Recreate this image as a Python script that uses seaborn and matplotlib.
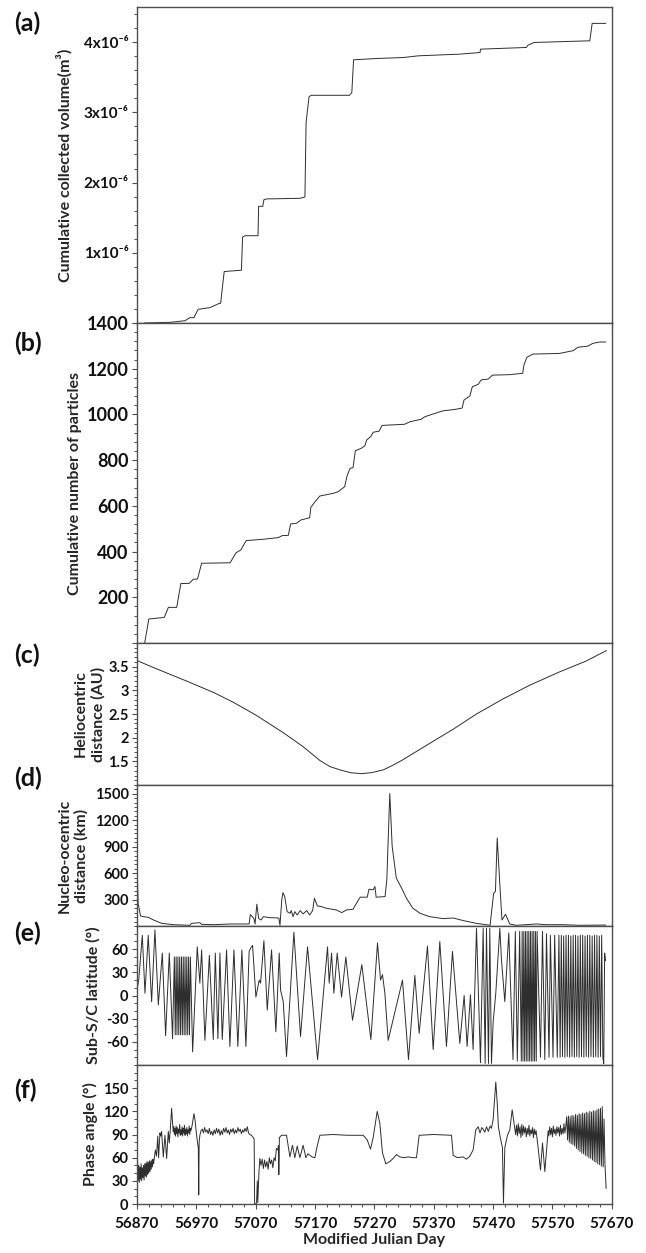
import matplotlib
matplotlib.use("Agg")
import matplotlib.pyplot as plt
from matplotlib.ticker import FixedLocator, FixedFormatter, MultipleLocator, AutoMinorLocator
import seaborn as sns

# ---------------- data ----------------
x_ticks = [56870, 56970, 57070, 57170, 57270, 57370, 57470, 57570, 57670]

# (a) cumulative collected volume, in units of 1e-6 m3
a_day = [56883, 56926, 56951, 56959, 56966, 56973, 56993, 57009, 57011, 57017,
         57046, 57048, 57052, 57074, 57075, 57082, 57084, 57088, 57145, 57153,
         57155, 57160, 57164, 57228, 57232, 57235, 57274, 57319, 57344, 57414,
         57448, 57449, 57526, 57529, 57539, 57633, 57637, 57660]
a_vol = [0, 0.01, 0.033, 0.076, 0.076, 0.195, 0.219, 0.281, 0.281, 0.733,
         0.752, 1.224, 1.243, 1.243, 1.662, 1.662, 1.757, 1.767, 1.776, 1.795,
         2.862, 3.224, 3.243, 3.243, 3.281, 3.748, 3.767, 3.781, 3.805, 3.829,
         3.852, 3.9, 3.924, 3.957, 3.995, 4.019, 4.267, 4.267]

# (b) cumulative number of particles
b_day = [56883, 56890, 56916, 56923, 56937, 56944, 56958, 56965, 56972, 56979,
         57027, 57037, 57045, 57054, 57083, 57108, 57115, 57125, 57129, 57139,
         57146, 57161, 57163, 57170, 57178, 57201, 57209, 57220, 57224, 57229,
         57234, 57238, 57248, 57254, 57257, 57264, 57268, 57278, 57283, 57321,
         57330, 57349, 57355, 57369, 57386, 57406, 57418, 57421, 57431, 57435,
         57445, 57450, 57462, 57469, 57498, 57520, 57522, 57527, 57537, 57582,
         57605, 57613, 57630, 57638, 57650, 57660]
b_num = [0, 105, 112, 156, 156, 260, 261, 279, 280, 349,
         351, 395, 407, 448, 454, 461, 470, 471, 521, 524,
         538, 548, 594, 618, 643, 655, 662, 684, 731, 764,
         767, 841, 852, 863, 888, 903, 922, 927, 952, 957,
         968, 979, 990, 1002, 1016, 1022, 1028, 1063, 1081, 1121,
         1132, 1151, 1155, 1172, 1174, 1180, 1216, 1250, 1264, 1267,
         1279, 1294, 1299, 1311, 1317, 1317]

# (c) heliocentric distance (AU)
c_day = [56870, 56900, 56951, 57000, 57032, 57070, 57116, 57150, 57178, 57195,
         57212, 57230, 57248, 57265, 57285, 57300, 57319, 57358, 57403, 57442,
         57487, 57532, 57582, 57627, 57661]
c_au = [3.63, 3.47, 3.21, 2.95, 2.75, 2.48, 2.11, 1.81, 1.52, 1.39,
        1.32, 1.26, 1.24, 1.26, 1.32, 1.41, 1.54, 1.84, 2.18, 2.50,
        2.82, 3.11, 3.39, 3.62, 3.84]

# (d) nucleo-centric distance (km)
d_day = [56870, 56872, 56876, 56881, 56889, 56898, 56912, 56931, 56959, 56962,
         56976, 56979, 56999, 57027, 57059, 57061, 57067, 57069, 57072, 57075,
         57079, 57083, 57094, 57109, 57111, 57114, 57116, 57119, 57123, 57128,
         57130, 57133, 57136, 57140, 57145, 57150, 57156, 57161, 57166, 57169,
         57174, 57181, 57189, 57206, 57215, 57223, 57234, 57246, 57258, 57261,
         57268, 57271, 57273, 57288, 57291, 57296, 57300, 57307, 57316, 57324,
         57335, 57347, 57363, 57386, 57403, 57420, 57442, 57465, 57471, 57474,
         57477, 57481, 57485, 57491, 57498, 57509, 57543, 57560, 57588, 57616,
         57660]
d_km = [752, 258, 114, 106, 99, 68, 30, 15, 8, 30,
        38, 19, 15, 23, 23, 129, 87, 23, 247, 87,
        68, 106, 95, 91, 8, 296, 380, 334, 163, 144,
        175, 106, 163, 125, 175, 137, 175, 125, 175, 315,
        228, 220, 201, 182, 152, 182, 190, 327, 327, 418,
        410, 448, 327, 334, 524, 1504, 904, 543, 429, 315,
        201, 144, 106, 84, 91, 61, 30, 8, 372, 391,
        999, 524, 68, 133, 23, 8, 23, 15, 15, 8,
        11]

# (e) sub-spacecraft latitude (deg), turning points
e_day = [56870, 56873, 56879, 56883.5, 56889, 56894.7, 56900.3, 56906, 56912.7, 56918.3, 56924.5, 56930,
         56933, 56934.5, 56936, 56937.5, 56939, 56940.5, 56942, 56943.5, 56945, 56946.5,
         56948, 56949.5, 56951, 56952.5, 56954, 56955.5, 56957, 56958.5, 56960,
         56963.8, 56971.6, 56976, 56979, 56984.5, 56992, 56998.6, 57002, 57006.4, 57009.8,
         57013.7, 57021, 57026.6, 57033.4, 57040, 57046.8, 57053.6, 57059, 57061.4, 57064.8,
         57070.4, 57076, 57078.3, 57083.9, 57089.5, 57096.8, 57104.1, 57109.7, 57112, 57116.5,
         57122, 57134.4, 57145.6, 57157.4, 57174.3, 57191.1, 57193.9, 57197.9, 57201.8, 57207.4,
         57214.7, 57222, 57233.2, 57248.9, 57264.1, 57275.3, 57280.4, 57283.7, 57287.7, 57293.3,
         57317.4, 57327.5, 57338.2, 57345.5, 57359.5, 57369.1, 57380.3, 57391.5, 57401.6, 57414,
         57421.3, 57426.3, 57431.9, 57436.4,
         57442.1, 57448.8, 57453.3, 57456.7, 57458.9, 57462.3, 57464.5, 57467.3, 57470.1, 57474.6,
         57481.4, 57484.2, 57489.8, 57496.5, 57503.6, 57507.5, 57510.9, 57514.8, 57517.6,
         57519.0, 57520.4, 57521.8, 57523.2, 57524.6, 57526.0, 57527.4, 57528.8, 57530.2, 57531.6,
         57533.0, 57534.4, 57535.8, 57537.2, 57538.6, 57540.0, 57541.4, 57542.8, 57544.2,
         57549.9, 57553.3, 57557.2, 57560, 57564.3, 57566.6, 57571, 57573.8, 57578.2, 57581,
         57583, 57585, 57587, 57589, 57591, 57593, 57595, 57597, 57599, 57601,
         57603, 57605, 57607, 57609, 57611, 57613, 57615, 57617, 57619, 57621,
         57623, 57625, 57627, 57629, 57631, 57633, 57635, 57637, 57639, 57641,
         57643, 57645, 57647, 57649, 57651, 57653, 57655,
         57656.5, 57658, 57659.5]
e_lat = [7, 20, 78, 3, 78, -8, 85, -12, 55, -52, 55, -56,
         50, -51, 50, -51, 50, -51, 50, -51, 50, -51,
         50, -51, 50, -51, 50, -51, 50, -51, 50,
         -73, 63, 16, 59, -58, 52, -57, 55, -56, 55,
         -57, 59, -66, 59, -66, 59, -66, 57, 61, 65,
         -2, 20, 16, 71, -19, 59, -47, 55, 7, -8,
         -79, 82, -53, 63, -83, 63, 16, 55, 3, 55,
         -2, 50, -32, 40, -57, 68, 20, 27, 3, -58,
         20, -83, 26, -49, 64, -70, 70, -66, 57, -62,
         0, -66, 1, -70,
         87, -87, 87, -88, 87, -88, 87, -88, -35, 3,
         87, 46, -8, 81, -83, 83, -85, 83, -85,
         83, -85, 83, -85, 83, -85, 83, -85, 83, -85,
         83, -85, 83, -85, 83, -85, 83, -85, 83,
         -80, 83, -83, 80, -80, 78, -80, 78, -80, 78,
         -80, 78, -79, 77, -80, 78, -79, 78, -80, 77,
         -79, 78, -80, 78, -79, 77, -80, 78, -79, 78,
         -80, 77, -79, 78, -80, 78, -79, 77, -80, 78,
         -79, 78, -80, 77, -79, 78, -80,
         -88, 55, 45]

# (f) phase angle (deg)
f_day = [56870, 56871, 56872, 56873, 56874, 56875, 56876, 56877, 56878, 56879,
         56880, 56881, 56882, 56883, 56884, 56885, 56886, 56887, 56888, 56889,
         56890, 56891, 56892, 56893, 56894, 56895, 56896, 56897, 56898,
         56901, 56903, 56905, 56906.5, 56908.7, 56910, 56911.5, 56914.4, 56917.2, 56920,
         56922.8, 56924.5, 56926.5, 56928.4, 56930, 56931.2,
         56932, 56933, 56934, 56935, 56936, 56937, 56938, 56939, 56940, 56941,
         56942, 56943, 56944, 56945, 56946, 56947, 56948, 56949, 56950, 56951,
         56952, 56953, 56954, 56955, 56956, 56957, 56958, 56959, 56960, 56961,
         56963, 56966, 56968, 56970.5, 56973.4, 56974.1, 56974.8, 56976, 56978,
         56980, 56982, 56984, 56986, 56988, 56990, 56992, 56994, 56996, 56998,
         57000, 57002, 57004, 57006, 57008, 57010, 57012, 57014, 57016, 57018,
         57020, 57022, 57024, 57026, 57028, 57030, 57032, 57034, 57036, 57038,
         57040, 57042, 57044, 57046, 57048, 57050, 57052, 57054, 57056, 57058,
         57060, 57063, 57066, 57067.5, 57068.2, 57069, 57071.5, 57072.8, 57073.6, 57075.5,
         57077, 57079, 57081, 57083, 57085, 57087, 57089, 57091, 57093, 57095,
         57097, 57099, 57101, 57103, 57105, 57107, 57108.6, 57109, 57110, 57113.6,
         57122, 57127.7, 57132, 57136, 57140, 57144.5, 57150, 57154.6, 57158, 57161.4,
         57165, 57169.8, 57173.7, 57178.2, 57200, 57225, 57251.2, 57258, 57263.5, 57268,
         57274.8, 57279.3, 57283.7, 57289.4, 57296, 57301.7, 57307.3, 57313, 57320, 57327,
         57334, 57341, 57345.5, 57370, 57400, 57402.8, 57410, 57419.6, 57425, 57430.8,
         57436.4, 57440.9, 57445, 57448, 57451, 57453.3, 57456, 57459, 57462, 57465,
         57467.3, 57470.1, 57474.6, 57476.9, 57479, 57482.5, 57485.8, 57487.5, 57489.8, 57494.3,
         57498.2, 57502.2, 57506.6,
         57508, 57509.5, 57511, 57512.5, 57514, 57515.5, 57517, 57518.5, 57520, 57521.5,
         57523, 57524.5, 57526, 57527.5, 57529, 57530.5, 57532, 57533.5, 57535, 57536.5,
         57538, 57539.5, 57541, 57542.5,
         57545.9, 57549.9, 57553.3, 57557.2, 57562.8,
         57564, 57565.5, 57567, 57568.5, 57570, 57571.5, 57573, 57574.5, 57576, 57577.5,
         57579, 57580.5, 57582, 57583.5, 57585, 57586.5, 57588, 57589.5, 57591, 57592.5,
         57594, 57595.5, 57597, 57598.5, 57600, 57601.5, 57603, 57604.5, 57606, 57607.5,
         57609, 57610.5, 57612, 57613.5, 57615, 57616.5, 57618, 57619.5, 57621, 57622.5,
         57624, 57625.5, 57627, 57628.5, 57630, 57631.5, 57633, 57634.5, 57636, 57637.5,
         57639, 57640.5, 57642, 57643.5, 57645, 57646.5, 57648, 57649.5, 57651, 57652.5,
         57654, 57655.5,
         57657, 57658.5, 57660.5]
f_phase = [33, 55, 30, 50, 28, 48, 32, 52, 30, 47,
           34, 50, 31, 52, 36, 53, 35, 55, 38, 54,
           40, 56, 42, 55, 45, 57, 48, 58, 52,
           70, 62, 88, 60, 92, 88, 94, 61, 89, 59,
           94, 79, 100, 124, 105, 94,
           100, 90, 98, 88, 101, 91, 99, 87, 97, 92,
           103, 89, 96, 90, 100, 88, 98, 92, 102, 89,
           97, 91, 99, 88, 96, 92, 101, 90, 98, 95,
           102, 117, 108, 89, 72, 12, 80, 89, 95,
           97, 92, 99, 93, 96, 91, 98, 90, 94, 89,
           96, 91, 98, 92, 97, 89, 95, 90, 98, 93,
           99, 92, 96, 90, 97, 93, 98, 91, 96, 92,
           99, 94, 97, 91, 96, 93, 98, 94, 100, 92,
           90, 89, 86, 84, 1, 0, 1, 30, 2, 40,
           59, 50, 58, 46, 57, 48, 55, 45, 60, 52,
           57, 47, 60, 56, 72, 70, 76, 38, 86, 89,
           89, 61, 76, 60, 75, 60, 76, 60, 65, 63,
           61, 60, 75, 89, 90, 89, 89, 83, 71, 86,
           120, 104, 66, 52, 55, 59, 64, 61, 60, 61,
           60, 60, 89, 90, 89, 63, 60, 61, 58, 62,
           70, 96, 100, 92, 99, 97, 93, 100, 94, 101,
           98, 109, 158, 132, 100, 85, 73, 1, 73, 89,
           96, 122, 98,
           90, 102, 88, 104, 91, 100, 86, 103, 89, 101,
           92, 99, 87, 98, 90, 102, 88, 96, 91, 99,
           86, 97, 90, 95,
           73, 44, 79, 42, 95,
           88, 100, 90, 98, 87, 101, 91, 97, 89, 100,
           92, 99, 88, 102, 90, 98, 91, 104, 92, 100,
           113, 83, 114, 80, 113, 78, 115, 77, 114, 75,
           116, 72, 115, 70, 117, 68, 116, 66, 118, 65,
           117, 63, 119, 62, 118, 60, 120, 59, 119, 57,
           121, 55, 120, 54, 122, 52, 123, 51, 124, 49,
           126, 48,
           110, 53, 20]

# ---------------- styling ----------------
LINE = "#2e2e2e"
FRAME = "#4d4d4d"

sns.set_theme(style="ticks")
plt.rcParams["font.family"] = ["Lato", "DejaVu Sans"]
plt.rcParams["font.weight"] = "bold"
plt.rcParams["axes.labelweight"] = "bold"

fig = plt.figure(figsize=(6.46, 12.53), dpi=100)
gs = fig.add_gridspec(6, 1, height_ratios=[316, 320, 142, 141, 139, 139], hspace=0,
                      left=0.212, right=0.947, top=0.9944, bottom=0.0391)
axes = [fig.add_subplot(gs[i]) for i in range(6)]


def panel(ax, x, y, ylabel, ylim, yticks, ylabels, minor, labelpad, tsize):
    sns.lineplot(x=x, y=y, ax=ax, color=LINE, linewidth=0.7, sort=False, estimator=None)
    ax.set_xlim(56870, 57670)
    ax.set_ylim(ylim)
    ax.xaxis.set_major_locator(FixedLocator(x_ticks))
    ax.xaxis.set_minor_locator(AutoMinorLocator(5))
    ax.yaxis.set_major_locator(FixedLocator(yticks))
    ax.yaxis.set_major_formatter(FixedFormatter(ylabels))
    ax.yaxis.set_minor_locator(MultipleLocator(minor))
    ax.set_ylabel(ylabel, fontsize=11.5, labelpad=labelpad, linespacing=1.25)
    ax.set_xlabel("")
    ax.tick_params(which="major", direction="out", length=3.5, width=0.8,
                   color=FRAME, labelsize=tsize, pad=2.5, labelcolor="#111111")
    ax.tick_params(which="minor", direction="out", length=2, width=0.7, color=FRAME)
    ax.tick_params(axis="x", labelbottom=False)
    for sp in ax.spines.values():
        sp.set_color(FRAME)
        sp.set_linewidth(1.0)


panel(axes[0], a_day, [v * 1e-6 for v in a_vol], "Cumulative collected volume(m\u00b3)",
      (0, 4.5e-6), [0, 1e-6, 2e-6, 3e-6, 4e-6],
      ["", "1x10\u207b\u2076", "2x10\u207b\u2076", "3x10\u207b\u2076", "4x10\u207b\u2076"],
      0.2e-6, 8, 11)
panel(axes[1], b_day, b_num, "Cumulative number of particles",
      (0, 1400), [0, 200, 400, 600, 800, 1000, 1200, 1400],
      ["", "200", "400", "600", "800", "1000", "1200", "1400"], 40, 3, 13)
panel(axes[2], c_day, c_au, "Heliocentric\ndistance (AU)",
      (1, 4), [1.5, 2, 2.5, 3, 3.5], ["1.5", "2", "2.5", "3", "3.5"], 0.1, 2, 10.5)
panel(axes[3], d_day, d_km, "Nucleo-ocentric\ndistance (km)",
      (0, 1600), [300, 600, 900, 1200, 1500], ["300", "600", "900", "1200", "1500"], 50, 4, 10.5)
panel(axes[4], e_day, e_lat, "Sub-S/C latitude (\u00b0)",
      (-90, 90), [-60, -30, 0, 30, 60], ["-60", "-30", "0", "30", "60"], 10, 4, 10.5)
panel(axes[5], f_day, f_phase, "Phase angle (\u00b0)",
      (0, 180), [0, 30, 60, 90, 120, 150], ["0", "30", "60", "90", "120", "150"], 10, 4, 10.5)

axes[5].tick_params(axis="x", labelbottom=True, pad=6, labelsize=11)
axes[5].set_xlabel("Modified Julian Day", fontsize=11.5, labelpad=1)

letters = ["(a)", "(b)", "(c)", "(d)", "(e)", "(f)"]
letter_y = [23, 343, 655, 778, 933, 1090]
for lab, ypx in zip(letters, letter_y):
    fig.text(14 / 646, 1 - ypx / 1253, lab, fontsize=18, fontweight="bold",
             ha="left", va="center", color="#111111")

fig.savefig("out.png", dpi=100, facecolor="white")
